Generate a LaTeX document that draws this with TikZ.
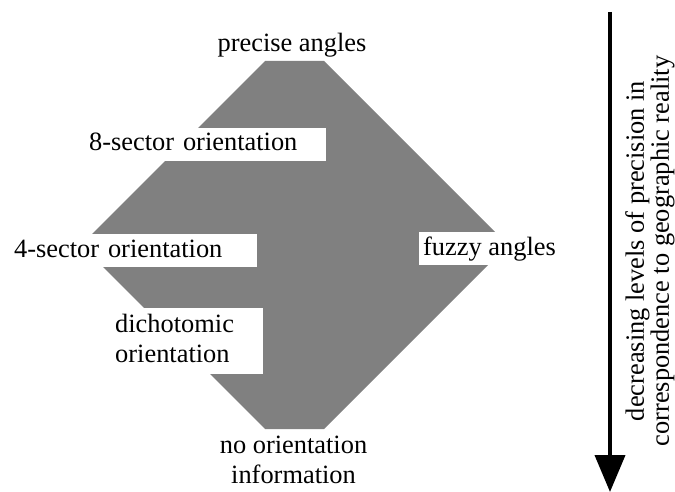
\documentclass[tikz,border=0pt]{standalone}
\usepackage{fontspec}
\usepackage{tikz}
\usetikzlibrary{arrows.meta}
\setmainfont{Liberation Serif}

\tikzset{
  lbl/.style={fill=white,inner xsep=4pt,inner ysep=4pt,text height=19pt,text depth=6pt,align=left},
  lbltwo/.style={fill=white,inner xsep=4pt,inner ysep=3pt,align=left},
}

\begin{document}
\begin{tikzpicture}[x=1pt,y=-1pt,font=\fontsize{26.4}{30}\selectfont]
\useasboundingbox (0,0) rectangle (675,492);
% objects at depth 50:
\path[fill=gray] (265,61) -- (324,61) -- (508,245) -- (324,429) -- (265,429) -- (81,245) -- cycle;
% objects at depth 40:
\node[anchor=base] (precise) at (292,52) {precise angles};
\node[lbl,anchor=base west,text width=233pt] (eightsector) at (85,151) {8-sector orientation};
\node[lbl,anchor=base west,text width=239pt] (foursector) at (10,257) {4-sector orientation};
\node[lbl,anchor=base west] (fuzzy) at (419,255) {fuzzy angles};
\node[lbltwo,anchor=north west,text width=144pt] (dichotomic) at (111,308) {\strut dichotomic\\orientation\strut};
\node[align=center,anchor=north,inner sep=0pt] (noorient) at (293.5,432) {\strut no orientation\\information};
% objects at depth 30:
\coordinate (arrtop) at (610,12);
\coordinate (arrtip) at (610,492);
\path[draw=black,line width=4pt,-{Triangle[width=30pt,length=37pt]}] (arrtop) -- (arrtip);
\node[rotate=90,align=center,inner sep=0pt,font=\fontsize{26.4}{25}\selectfont] (trend) at (650,251)
  {decreasing levels of precision in\\correspondence to geographic reality};
\end{tikzpicture}
\end{document}
